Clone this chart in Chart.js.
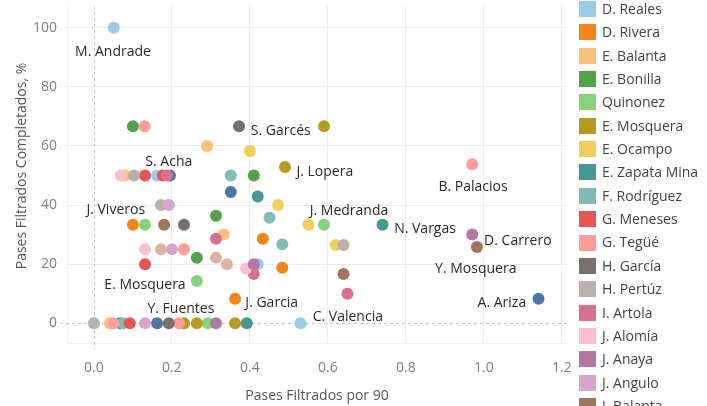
<!DOCTYPE html>
<html>
<head>
<meta charset="utf-8">
<script src="https://cdn.jsdelivr.net/npm/chart.js@4.4.1/dist/chart.umd.min.js"></script>
<style>
html, body { margin: 0; padding: 0; background: #fff; overflow: hidden; }
</style>
</head>
<body>
<canvas id="chart" width="707" height="406"></canvas>
<script>
// Names of the traces (the legend is scrolled: first and last are out of view)
const playerNames = ['A. Ariza', 'D. Reales', 'D. Rivera', 'E. Balanta', 'E. Bonilla', 'Quinonez',
    'E. Mosquera', 'E. Ocampo', 'E. Zapata Mina', 'F. Rodríguez', 'G. Meneses', 'G. Tegüé',
    'H. García', 'H. Pertúz', 'I. Artola', 'J. Alomía', 'J. Anaya', 'J. Angulo', 'J. Balanta', ''];

const playerColors = ['#4c78a8', '#9ecae9', '#f58518', '#ffbf79', '#54a24b', '#88d27a',
    '#b79a20', '#f2cf5b', '#439894', '#83bcb6', '#e45756', '#ff9d98',
    '#79706e', '#bab0ac', '#d67195', '#fcbfd2', '#b279a2', '#d6a5c9', '#9e765f', '#d8b5a5'];

// Pases filtrados por 90 (eje x), un array por color
const pasesPor90 = [
    [0.195, 0.351, 1.14, 0.162],
    [0.051, 0.162, 0.42, 0.53],
    [0.10, 0.433, 0.483, 0.362],
    [0.29, 0.079, 0.333, 0.041],
    [0.10, 0.41, 0.313, 0.264],
    [0.59, 0.131, 0.264, 0.292],
    [0.59, 0.49, 0.231, 0.264, 0.362],
    [0.40, 0.472, 0.55, 0.62],
    [0.42, 0.74, 0.067, 0.392],
    [0.351, 0.45, 0.483, 0.075],
    [0.131, 0.177, 0.131, 0.092],
    [0.13, 0.97, 0.231, 0.05, 0.218],
    [0.372, 0.231, 0.192],
    [0.103, 0.172, 0.64, 0.0],
    [0.187, 0.313, 0.41, 0.65],
    [0.069, 0.131, 0.39],
    [0.41, 0.97, 0.313],
    [0.192, 0.20, 0.131],
    [0.18, 0.64, 0.982],
    [0.172, 0.313, 0.341]
];

// Pases filtrados completados, % (eje y)
const pctCompletados = [
    [50, 44.4, 8.3, 0],
    [100, 50, 20, 0],
    [33.3, 28.6, 18.8, 8.3],
    [60, 50, 30, 0],
    [66.7, 50, 36.4, 22.2],
    [33.3, 33.3, 14.3, 0],
    [66.7, 52.9, 0, 0, 0],
    [58.3, 40, 33.3, 26.5],
    [42.9, 33.3, 0, 0],
    [50, 35.7, 26.7, 0],
    [50, 50, 20, 0],
    [66.7, 53.8, 25, 0, 0],
    [66.7, 33.3, 0],
    [50, 40, 26.5, 0],
    [50, 28.6, 16.7, 10],
    [50, 25, 18.5],
    [20, 30, 0],
    [40, 25, 0],
    [33.3, 16.7, 25.8],
    [25, 22.2, 20]
];

// Etiquetas de texto dentro del gráfico
const labelTexts = ['M. Andrade', 'S. Garcés', 'S. Acha', 'J. Lopera', 'B. Palacios', 'J. Viveros',
    'J. Medranda', 'N. Vargas', 'D. Carrero', 'Y. Mosquera', 'A. Ariza', 'E. Mosquera',
    'Y. Fuentes', 'J. Garcia', 'C. Valencia'];
const labelX = [0.049, 0.479, 0.192, 0.592, 0.972, 0.056, 0.654, 0.849, 1.087, 0.979, 1.046, 0.131, 0.223, 0.456, 0.651];
const labelY = [91.9, 65.1, 54.7, 51.3, 46.0, 38.3, 37.9, 31.9, 27.9, 18.5, 7.0, 12.8, 4.7, 6.7, 2.0];

const xTicks = [0, 0.2, 0.4, 0.6, 0.8, 1.0, 1.2];
const yTicks = [0, 20, 40, 60, 80, 100];

const FONT = "'Open Sans', 'Noto Sans', sans-serif";

const datasets = playerNames.map((name, i) => ({
    label: name,
    data: pasesPor90[i].map((x, j) => ({ x: x, y: pctCompletados[i][j] })),
    backgroundColor: playerColors[i],
    borderWidth: 0,
    pointRadius: 6,
    pointHoverRadius: 6,
    order: -i
}));

// líneas de cero punteadas
const zeroLines = {
    id: 'zeroLines',
    beforeDatasetsDraw(chart) {
        const { ctx, chartArea, scales } = chart;
        const x0 = Math.round(scales.x.getPixelForValue(0)) + 0.5;
        const y0 = Math.round(scales.y.getPixelForValue(0)) + 0.5;
        ctx.save();
        ctx.strokeStyle = '#c4c4c4';
        ctx.lineWidth = 1;
        ctx.setLineDash([3, 3]);
        ctx.beginPath();
        ctx.moveTo(x0, chartArea.top);
        ctx.lineTo(x0, chartArea.bottom + 6);
        ctx.moveTo(chartArea.left - 7, y0);
        ctx.lineTo(chartArea.right, y0);
        ctx.stroke();
        ctx.restore();
    }
};

// etiquetas, títulos de ejes y leyenda
const extras = {
    id: 'extras',
    afterDraw(chart) {
        const { ctx, chartArea, scales } = chart;
        ctx.save();
        ctx.font = '14px ' + FONT;
        ctx.textAlign = 'center';
        ctx.textBaseline = 'middle';
        ctx.fillStyle = '#2a2a2a';
        labelTexts.forEach((t, i) => {
            ctx.fillText(t, scales.x.getPixelForValue(labelX[i]), scales.y.getPixelForValue(labelY[i]));
        });

        // títulos de ejes
        ctx.fillStyle = '#555';
        ctx.fillText('Pases Filtrados por 90', (chartArea.left + chartArea.right) / 2, 396);
        ctx.save();
        ctx.translate(22, 166);
        ctx.rotate(-Math.PI / 2);
        ctx.fillText('Pases Filtrados Completados, %', 0, 0);
        ctx.restore();

        // leyenda (desplazada: el primer elemento queda fuera de la vista)
        ctx.textAlign = 'left';
        playerNames.forEach((name, i) => {
            const yc = 9 + (i - 1) * 23.35;
            ctx.fillStyle = playerColors[i];
            ctx.fillRect(579, Math.round(yc - 8), 17, 16);
            ctx.fillStyle = '#444';
            ctx.fillText(name, 602, yc + 1);
        });
        ctx.restore();
    }
};

const gridColor = c => (c.tick && c.tick.value === 0) ? 'rgba(0,0,0,0)' : '#ececec';

new Chart(document.getElementById('chart'), {
    type: 'scatter',
    data: { datasets: datasets },
    options: {
        responsive: false,
        animation: false,
        devicePixelRatio: 1,
        layout: { padding: { left: 0, right: 140, top: 3, bottom: 0 } },
        plugins: {
            legend: { display: false },
            tooltip: { enabled: false }
        },
        scales: {
            x: {
                type: 'linear',
                min: -0.069,
                max: 1.213,
                afterFit: s => { s.height = 63; s.paddingLeft = 0; s.paddingRight = 0; },
                afterBuildTicks: s => { s.ticks = xTicks.map(v => ({ value: v })); },
                grid: { color: gridColor, drawTicks: false },
                border: { display: true, color: '#f0f0f0' },
                ticks: {
                    padding: 17,
                    color: '#808080',
                    font: { family: FONT, size: 14 },
                    callback: v => v.toFixed(1)
                }
            },
            y: {
                type: 'linear',
                min: -6.7,
                max: 107.4,
                afterFit: s => { s.width = 67; s.paddingTop = 0; s.paddingBottom = 0; },
                afterBuildTicks: s => { s.ticks = yTicks.map(v => ({ value: v })); },
                grid: { color: gridColor, drawTicks: false },
                border: { display: true, color: '#f0f0f0' },
                ticks: {
                    padding: 10,
                    color: '#808080',
                    font: { family: FONT, size: 14 }
                }
            }
        }
    },
    plugins: [zeroLines, extras]
});
</script>
</body>
</html>
